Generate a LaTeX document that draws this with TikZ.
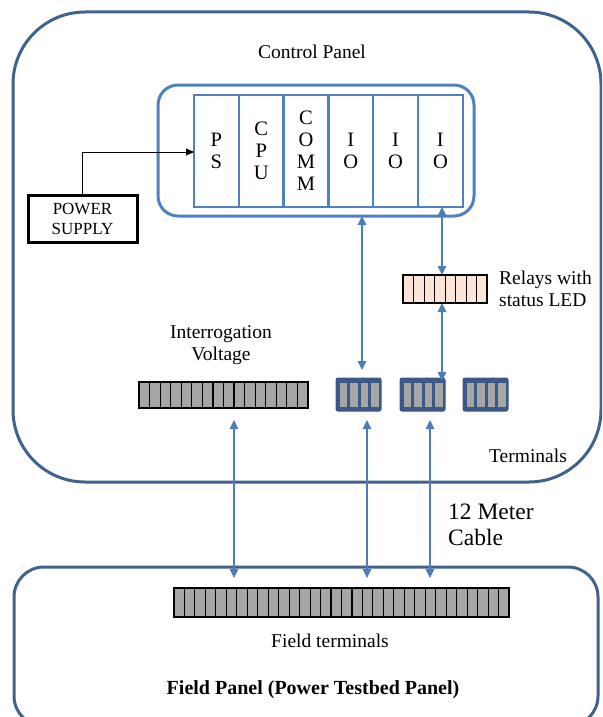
\documentclass[tikz,border=0pt]{standalone}
\usepackage{fontspec}
\setmainfont{Liberation Serif}
\usetikzlibrary{arrows.meta,calc}
\definecolor{panelblue}{RGB}{65,98,140}
\definecolor{rackblue}{RGB}{79,129,189}
\definecolor{arrowblue}{RGB}{74,126,187}
\definecolor{termblue}{RGB}{59,89,135}
\definecolor{termgray}{RGB}{166,166,166}
\definecolor{relayfill}{RGB}{252,229,214}
\begin{document}
\begin{tikzpicture}[x=1pt,y=-1pt,
  panel/.style={draw=panelblue, line width=3pt},
  module/.style={draw=rackblue, line width=2.5pt, minimum width=44.8pt, minimum height=112pt,
    inner sep=0pt, outer sep=0pt, align=center, anchor=north west, font=\fontsize{20.5}{22}\selectfont},
  link/.style={draw=arrowblue, line width=1.2pt,
    {Triangle[length=9pt,width=8.5pt]}-{Triangle[length=9pt,width=8.5pt]}},
  lbl/.style={font=\fontsize{19.5}{22}\selectfont, inner sep=0pt},
  strip/.style={draw=black, line width=1.4pt, inner sep=0pt, outer sep=0pt, anchor=north west},
  tblock/.style={fill=termblue, draw=termblue, line width=1pt, rounded corners=2pt,
    minimum width=45pt, minimum height=33pt, inner sep=0pt, outer sep=0pt, anchor=north west},
  bar/.style={fill=termgray}
]
\useasboundingbox (0,0) rectangle (602,717);
\clip (0,0) rectangle (602,717);

% outer panels
\draw[panel, rounded corners=72pt] (13,12) rectangle (601,482);
\draw[panel, rounded corners=30pt] (14,567) rectangle (598,726);

% rack
\node[draw=rackblue, line width=3pt, rounded corners=20pt, minimum width=316pt, minimum height=131pt,
  inner sep=0pt, outer sep=0pt, anchor=north west] (rack) at (158,85) {};
\node[module] (ps)   at (194,95)   {P\\S};
\node[module] (cpu)  at (238.8,95) {C\\P\\U};
\node[module] (comm) at (283.6,95) {C\\O\\M\\M};
\node[module] (io1)  at (328.4,95) {I\\O};
\node[module] (io2)  at (373.2,95) {I\\O};
\node[module] (io3)  at (418,95)   {I\\O};

% power supply
\node[draw=black, line width=3pt, minimum width=109pt, minimum height=47pt, anchor=north west,
  align=center, inner sep=0pt, outer sep=0pt, font=\fontsize{17}{20}\selectfont] (psu) at (28,195) {POWER\\SUPPLY};
\coordinate (p1) at (82,152);
\draw[line width=0.9pt, -{Triangle[length=8pt,width=7pt]}] (p1 |- psu.north) -- (p1) -- (ps.west |- p1);

% relays
\node[strip, fill=relayfill, minimum width=84pt, minimum height=28pt] (relay) at (403,275) {};
\foreach \i in {1,...,7} \draw[line width=1pt] (403+\i*10.5,275) -- (403+\i*10.5,303);

% interrogation voltage strip
\node[strip, fill=termgray, minimum width=169pt, minimum height=26pt] (iv) at (139,382) {};
\foreach \i in {1,...,15} \draw[line width=1.2pt] (139+\i*10.5625,382) -- (139+\i*10.5625,408);

% terminal blocks
\node[tblock] (tb1) at (336,378) {};
\node[tblock] (tb2) at (400,378) {};
\node[tblock] (tb3) at (463,378) {};
\foreach \x in {336,400,463}
  \foreach \k in {0,...,3}
    \fill[bar] (\x+3.5+\k*10.5,382.5) rectangle (\x+11+\k*10.5,406.5);

% field terminals strip
\node[strip, fill=termgray, minimum width=335pt, minimum height=29pt] (fs) at (174,588) {};
\foreach \i in {1,...,31} \draw[line width=1.1pt] (174+\i*10.469,588) -- (174+\i*10.469,617);

% connectors inside the control panel
\coordinate (c1) at (362,370);
\draw[link] (c1 |- rack.south) -- (c1);
\coordinate (c2) at (442,290);
\draw[link] (c2 |- io3.south) -- (c2 |- relay.north);
\coordinate (c3) at (442,381);
\draw[link] (c2 |- relay.south) -- (c3);

% connectors to the field panel
\coordinate (d1) at (234,420);
\coordinate (d2) at (367,420);
\coordinate (d3) at (430,420);
\draw[link, shorten >=10pt] (d1) -- (d1 |- fs.north);
\draw[link, shorten >=10pt] (d2) -- (d2 |- fs.north);
\draw[link, shorten >=10pt] (d3) -- (d3 |- fs.north);

% labels
\node[lbl] (cpl) at (312,52) {Control Panel};
\node[lbl, anchor=west, align=left] (rll) at (499,289) {Relays with\\status LED};
\node[lbl, align=center] (ivl) at (221,345) {Interrogation\\Voltage};
\node[lbl] (tml) at (528,456) {Terminals};
\node[anchor=west, align=left, inner sep=0pt, font=\fontsize{23.5}{26}\selectfont] (cab) at (448,525) {12 Meter\\Cable};
\node[lbl] (ftl) at (330,641) {Field terminals};
\node[inner sep=0pt, font=\bfseries\fontsize{20}{22}\selectfont] (fpl) at (313,690) {Field Panel (Power Testbed Panel)};
\end{tikzpicture}
\end{document}
